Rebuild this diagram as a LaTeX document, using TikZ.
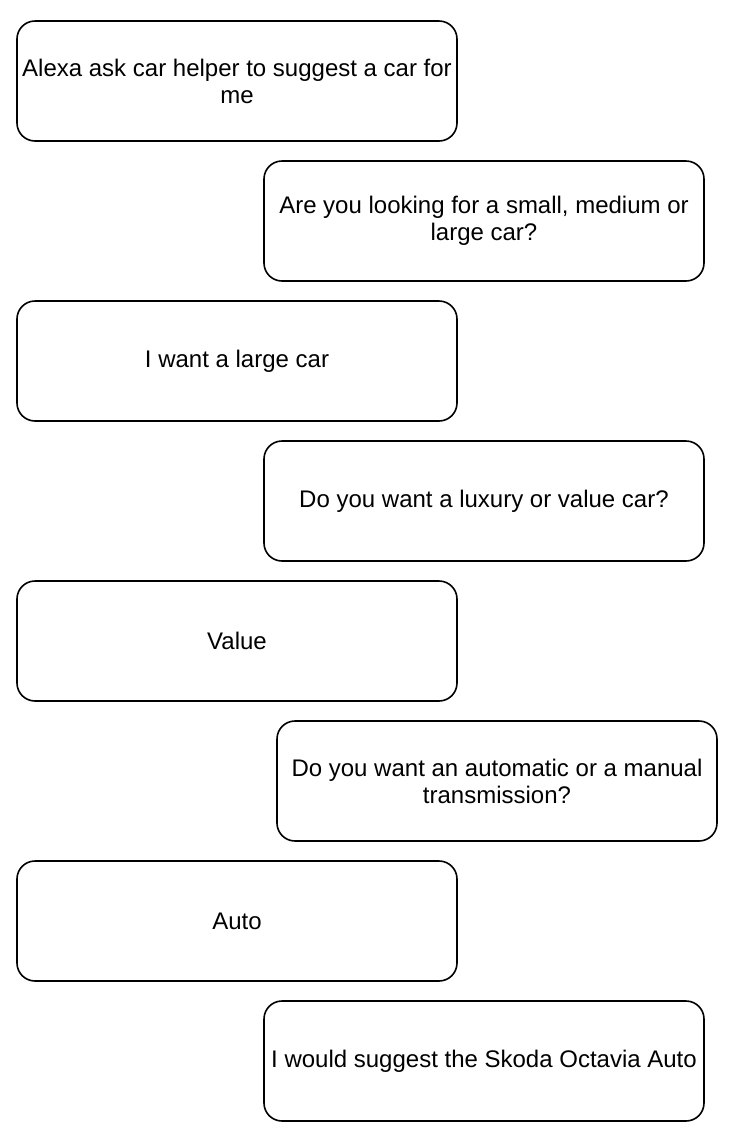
\documentclass[tikz,border=0pt]{standalone}
\usepackage{fontspec}
\setmainfont{Liberation Sans}
\begin{document}
\begin{tikzpicture}[node distance=140pt, x=1pt, y=1pt,
    msgbox/.style={draw, rounded corners=18pt, line width=1.6pt, minimum width=440pt, minimum height=120pt, align=center, font=\fontsize{24}{27}\selectfont}]
    \useasboundingbox (0,0) rectangle (735,-1144);
    \node[msgbox] at (237,-81) (Q1) {Alexa ask car helper to suggest a car for\\me};
    \node[msgbox, below of=Q1, xshift=247pt] (A1) {Are you looking for a small, medium or\\large car?};
    \node[msgbox, below of=A1, xshift=-247pt] (Q2) {I want a large car};
    \node[msgbox, below of=Q2, xshift=247pt] (A2) {Do you want a luxury or value car?};
    \node[msgbox, below of=A2, xshift=-247pt] (Q3) {Value};
    \node[msgbox, below of=Q3, xshift=260pt] (A3) {Do you want an automatic or a manual\\transmission?};
    \node[msgbox, below of=A3, xshift=-260pt] (Q4) {Auto};
    \node[msgbox, below of=Q4, xshift=247pt] (A4) {I would suggest the Skoda Octavia Auto};
\end{tikzpicture}
\end{document}
